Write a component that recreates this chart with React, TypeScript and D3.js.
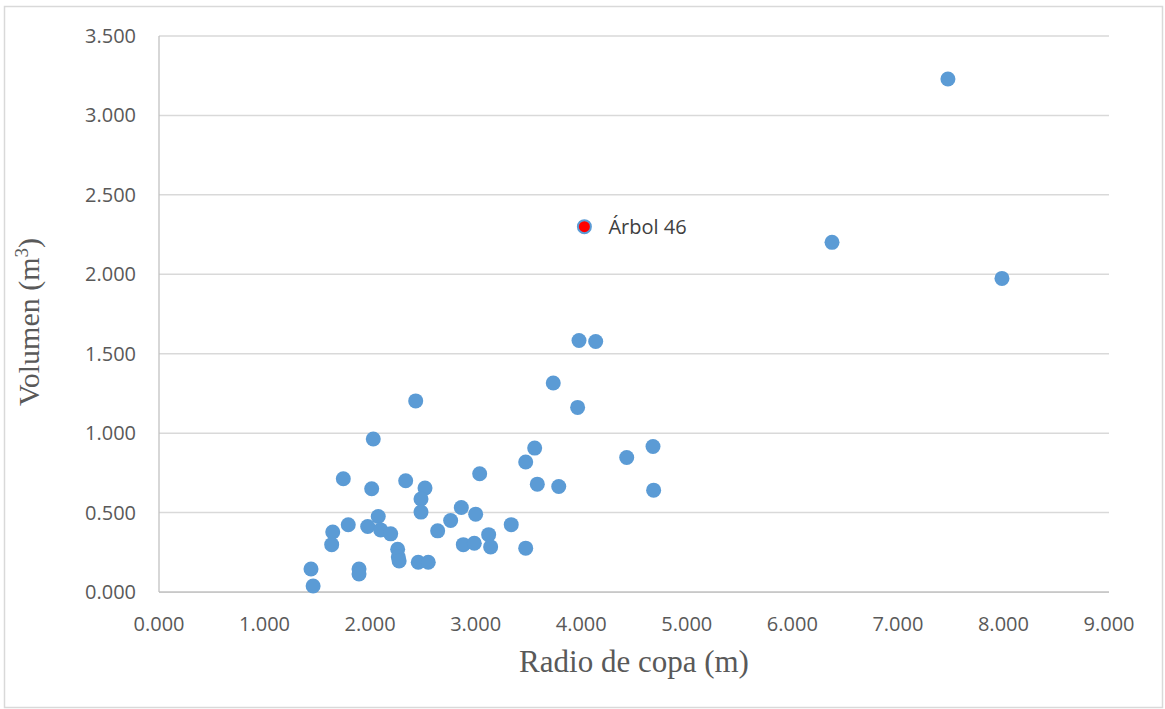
import React from "react";
import * as d3 from "d3";

// Crown radius (m) and volume (m³) of each sampled tree
const radioCopa: number[] = [
  1.44, 1.46, 1.646, 1.636, 1.793, 1.746, 2.03, 2.015, 2.337, 2.52,
  2.482, 2.482, 2.077, 1.977, 2.1, 2.195, 2.261, 2.267, 2.275, 1.895,
  1.895, 2.456, 2.551, 2.64, 2.763, 2.864, 3.0, 3.038, 2.883, 2.987,
  3.123, 3.142, 3.337, 3.474, 3.474, 3.559, 3.584, 3.787, 2.432, 3.735,
  3.979, 4.137, 3.966, 4.431, 4.68, 4.686, 6.376, 7.474, 7.986,
];
const volumen: number[] = [
  0.145, 0.038, 0.378, 0.298, 0.423, 0.713, 0.963, 0.65, 0.7, 0.654,
  0.585, 0.503, 0.475, 0.412, 0.391, 0.366, 0.269, 0.22, 0.195, 0.145,
  0.113, 0.187, 0.187, 0.385, 0.45, 0.532, 0.49, 0.744, 0.298, 0.307,
  0.361, 0.284, 0.424, 0.276, 0.818, 0.906, 0.679, 0.664, 1.203, 1.316,
  1.583, 1.577, 1.162, 0.847, 0.916, 0.641, 2.201, 3.229, 1.974,
];

// Highlighted tree
const destacadoNombre = "Árbol 46";
const destacadoRadio = 4.03;
const destacadoVolumen = 2.3;

const xTicks: number[] = [0, 1, 2, 3, 4, 5, 6, 7, 8, 9];
const yTicks: number[] = [0, 0.5, 1, 1.5, 2, 2.5, 3, 3.5];

const W = 1165;
const H = 709;
const plot = { left: 159, right: 1109, top: 36, bottom: 592 };

const fmt = d3.format(".3f");
const sans = "'Open Sans', 'Noto Sans', sans-serif";
const serif = "'Liberation Serif', 'Times New Roman', serif";
const blue = "#5B9BD5";

export default function App() {
  const x = d3.scaleLinear().domain([0, 9]).range([plot.left, plot.right]);
  const y = d3.scaleLinear().domain([0, 3.5]).range([plot.bottom, plot.top]);

  const points = radioCopa.map((r, i) => ({ r, v: volumen[i] }));

  return (
    <svg
      width={W}
      height={H}
      style={{ position: "absolute", left: 0, top: 0, background: "#fff" }}
    >
      <rect x={0} y={0} width={W} height={H} fill="#fff" />
      <rect
        x={4.5}
        y={6.5}
        width={1158}
        height={701}
        fill="none"
        stroke="#d9d9d9"
        strokeWidth={1.5}
      />

      {/* horizontal gridlines */}
      {yTicks.map((t) => (
        <line
          key={"g" + t}
          x1={plot.left}
          x2={plot.right}
          y1={y(t)}
          y2={y(t)}
          stroke="#d9d9d9"
          strokeWidth={1.5}
        />
      ))}

      {/* axis lines */}
      <line
        x1={plot.left}
        x2={plot.left}
        y1={plot.top}
        y2={plot.bottom}
        stroke="#bfbfbf"
        strokeWidth={1.25}
      />
      <line
        x1={plot.left}
        x2={plot.right}
        y1={plot.bottom}
        y2={plot.bottom}
        stroke="#bfbfbf"
        strokeWidth={1.25}
      />

      {/* y tick labels */}
      {yTicks.map((t) => (
        <text
          key={"yl" + t}
          x={136}
          y={y(t)}
          dy="0.35em"
          textAnchor="end"
          fontFamily={sans}
          fontSize={20}
          fill="#595959"
        >
          {fmt(t)}
        </text>
      ))}

      {/* x tick labels */}
      {xTicks.map((t) => (
        <text
          key={"xl" + t}
          x={x(t)}
          y={631}
          textAnchor="middle"
          fontFamily={sans}
          fontSize={20}
          fill="#595959"
        >
          {fmt(t)}
        </text>
      ))}

      {/* points */}
      {points.map((p, i) => (
        <circle
          key={"p" + i}
          cx={x(p.r)}
          cy={y(p.v)}
          r={7.5}
          fill={blue}
        />
      ))}

      {/* highlighted tree */}
      <circle
        cx={x(destacadoRadio)}
        cy={y(destacadoVolumen)}
        r={6.5}
        fill="#ff0000"
        stroke={blue}
        strokeWidth={2}
      />
      <text
        x={x(destacadoRadio) + 24}
        y={y(destacadoVolumen)}
        dy="0.35em"
        fontFamily={sans}
        fontSize={20}
        fill="#404040"
      >
        {destacadoNombre}
      </text>

      {/* axis titles */}
      <text
        x={(plot.left + plot.right) / 2}
        y={672}
        textAnchor="middle"
        fontFamily={serif}
        fontSize={31}
        fill="#595959"
      >
        Radio de copa (m)
      </text>
      <text
        transform="translate(39, 322) rotate(-90)"
        textAnchor="middle"
        fontFamily={serif}
        fontSize={30}
        fill="#595959"
      >
        Volumen (m
        <tspan fontSize={19} dy={-11}>
          3
        </tspan>
        <tspan dy={11}>)</tspan>
      </text>
    </svg>
  );
}
